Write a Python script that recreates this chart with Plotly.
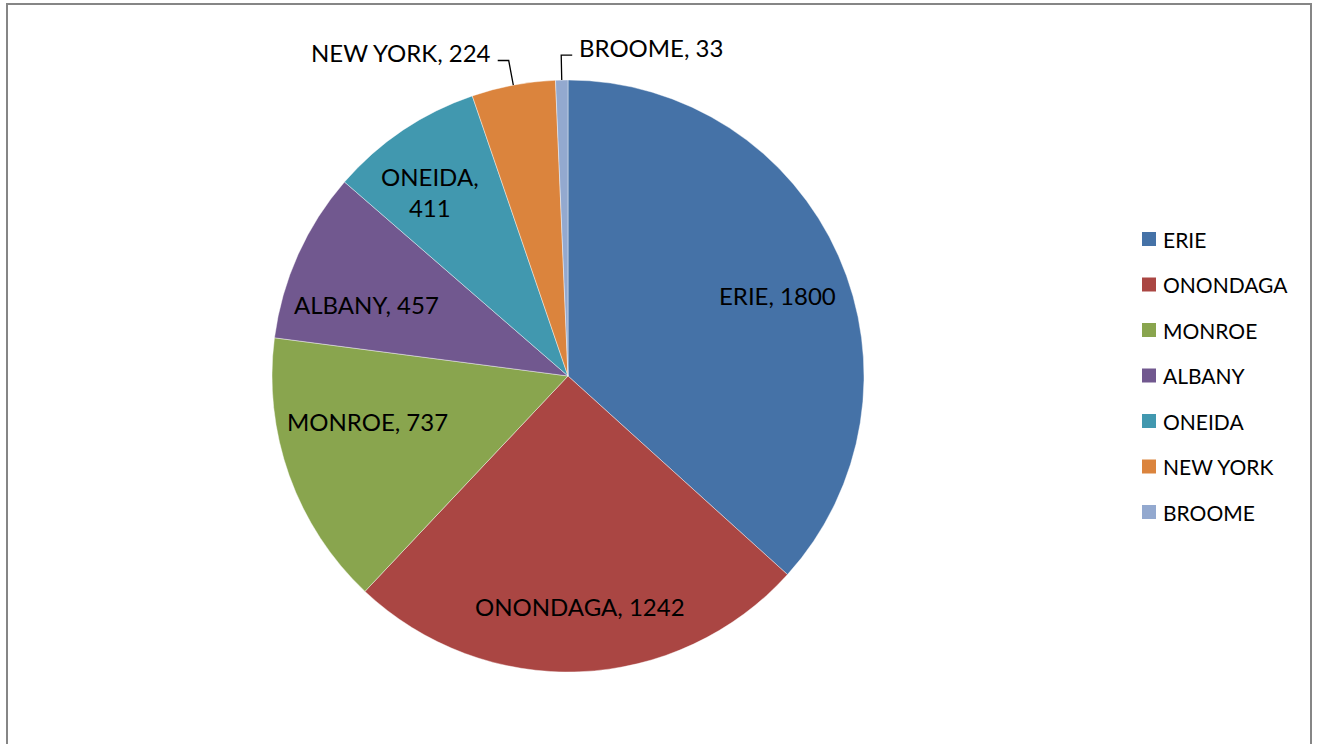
import math
import plotly.graph_objects as go

# ---- data ----
counties = ["ERIE", "ONONDAGA", "MONROE", "ALBANY", "ONEIDA", "NEW YORK", "BROOME"]
counts = [1800, 1242, 737, 457, 411, 224, 33]
colors = ["#4572A7", "#AA4643", "#89A54E", "#71588F", "#4198AF", "#DB843D", "#93A9CF"]
# labels drawn outside with a leader line (-1 = label to the left, +1 = to the right)
outside_side = {"NEW YORK": -1, "BROOME": 1}
# labels split over two lines
two_line = {"ONEIDA"}

# ---- layout constants (pixels) ----
W, H = 1317, 744
CX, CY, R = 568, 376, 296
FONT = "Lato, 'Open Sans', sans-serif"
LABEL_SIZE = 24
LEGEND_SIZE = 21
LABEL_FRAC = 0.75
# small pixel nudges for inside labels (style only)
label_nudge = {"ERIE": (7, 10), "ONONDAGA": (3, 9), "MONROE": (9, -29),
               "ALBANY": (1, 19), "ONEIDA": (-14, 0)}


def px(x):
    return x / W


def py(y):
    return 1 - y / H


fig = go.Figure()
fig.add_trace(go.Pie(
    labels=counties,
    values=counts,
    sort=False,
    direction="clockwise",
    rotation=0,
    marker=dict(colors=colors, line=dict(color="rgba(255,255,255,0.7)", width=0.6)),
    textinfo="none",
    hovertemplate="%{label}: %{value}<extra></extra>",
    domain=dict(x=[px(CX - R), px(CX + R)], y=[py(CY + R), py(CY - R)]),
    showlegend=False,
))

annotations = []
shapes = []
total = sum(counts)
cum = 0
for name, val in zip(counties, counts):
    mid = (cum + val / 2) / total * 2 * math.pi
    cum += val
    sx, sy = math.sin(mid), -math.cos(mid)
    if name in outside_side:
        side = outside_side[name]
        x1, y1 = CX + R * sx, CY + R * sy
        x2, y2 = CX + (R + 25) * sx, CY + (R + 25) * sy
        x3 = x2 + side * 11
        shapes.append(dict(type="path", xref="paper", yref="paper",
                           path=f"M {px(x1)},{py(y1)} L {px(x2)},{py(y2)} L {px(x3)},{py(y2)}",
                           line=dict(color="black", width=1.3)))
        annotations.append(dict(x=px(x3 + side * 5), y=py(y2 - 8), xref="paper", yref="paper",
                                text=f"{name}, {val}", showarrow=False,
                                xanchor="left" if side > 0 else "right", yanchor="middle",
                                font=dict(family=FONT, size=LABEL_SIZE, color="black")))
    else:
        dx, dy = label_nudge.get(name, (0, 0))
        lx, ly = CX + LABEL_FRAC * R * sx + dx, CY + LABEL_FRAC * R * sy + dy
        sep = "<br>" if name in two_line else " "
        annotations.append(dict(x=px(lx), y=py(ly), xref="paper", yref="paper",
                                text=f"{name},{sep}{val}", showarrow=False,
                                xanchor="center", yanchor="middle",
                                font=dict(family=FONT, size=LABEL_SIZE, color="black")))

# ---- legend (manual, to match the wide spacing) ----
LEG_X, LEG_Y0, LEG_STEP, SQ = 1142, 239, 45.5, 14
for i, (name, col) in enumerate(zip(counties, colors)):
    yc = LEG_Y0 + i * LEG_STEP
    shapes.append(dict(type="rect", xref="paper", yref="paper",
                       x0=px(LEG_X), x1=px(LEG_X + SQ), y0=py(yc + SQ / 2), y1=py(yc - SQ / 2),
                       fillcolor=col, line=dict(width=0)))
    annotations.append(dict(x=px(LEG_X + SQ + 5), y=py(yc), xref="paper", yref="paper",
                            text=name, showarrow=False, xanchor="left", yanchor="middle",
                            font=dict(family=FONT, size=LEGEND_SIZE, color="black")))

# ---- chart frame ----
shapes.append(dict(type="rect", xref="paper", yref="paper",
                   x0=px(7), x1=px(1311), y0=py(H + 20), y1=py(4),
                   line=dict(color="#868686", width=2), fillcolor="rgba(0,0,0,0)"))

fig.update_layout(
    width=W, height=H,
    margin=dict(l=0, r=0, t=0, b=0),
    paper_bgcolor="white",
    plot_bgcolor="white",
    annotations=annotations,
    shapes=shapes,
    font=dict(family=FONT),
)

fig.write_html("out.html",
               config={"displayModeBar": False},
               post_script="document.body.style.margin='0';document.body.style.overflow='hidden';")
